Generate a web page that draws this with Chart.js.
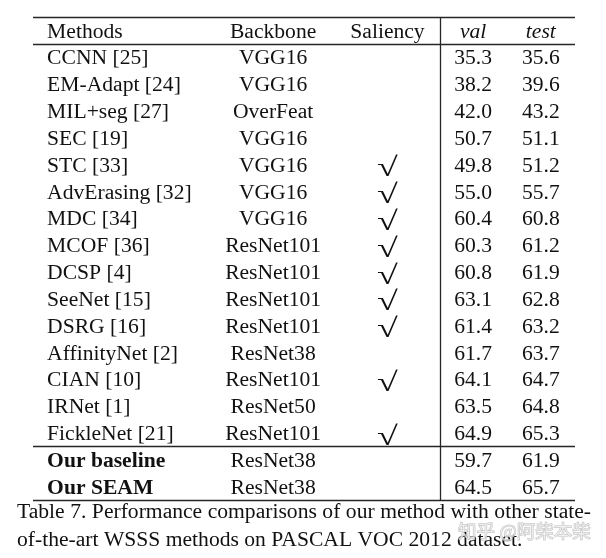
<!DOCTYPE html>
<html>
<head>
<meta charset="utf-8">
<script src="https://cdn.jsdelivr.net/npm/chart.js@4.4.0/dist/chart.umd.min.js"></script>
<style>
  html, body { margin: 0; padding: 0; background: #fff; }
</style>
</head>
<body>
<canvas id="tabla" width="606" height="558"></canvas>
<script>
// Datos de la tabla
const headers = ['Methods', 'Backbone', 'Saliency', 'val', 'test'];
const methods = ['CCNN [25]', 'EM-Adapt [24]', 'MIL+seg [27]', 'SEC [19]', 'STC [33]', 'AdvErasing [32]', 'MDC [34]',
    'MCOF [36]', 'DCSP [4]', 'SeeNet [15]', 'DSRG [16]', 'AffinityNet [2]', 'CIAN [10]', 'IRNet [1]', 'FickleNet [21]',
    'Our baseline', 'Our SEAM'];
const backbones = ['VGG16', 'VGG16', 'OverFeat', 'VGG16', 'VGG16', 'VGG16', 'VGG16', 'ResNet101', 'ResNet101',
    'ResNet101', 'ResNet101', 'ResNet38', 'ResNet101', 'ResNet50', 'ResNet101', 'ResNet38', 'ResNet38'];
const saliency = [false, false, false, false, true, true, true, true, true, true, true, false, true, false, true, false, false];
const valScores = [35.3, 38.2, 42.0, 50.7, 49.8, 55.0, 60.4, 60.3, 60.8, 63.1, 61.4, 61.7, 64.1, 63.5, 64.9, 59.7, 64.5];
const testScores = [35.6, 39.6, 43.2, 51.1, 51.2, 55.7, 60.8, 61.2, 61.9, 62.8, 63.2, 63.7, 64.7, 64.8, 65.3, 61.9, 65.7];
const oursFrom = 15; // filas propias (negrita)
const caption = [
    'Table 7. Performance comparisons of our method with other state-',
    'of-the-art WSSS methods on PASCAL VOC 2012 dataset.'
];
const watermark = '知乎 @阿柴本柴';

// Posiciones de columnas (en unidades del eje x, 0..100)
const colMethods = 2.6;
const colBackbone = 44.3;
const colSaliency = 65.4;
const colDivider = 75.0;
const colVal = 81.2;
const colTest = 93.7;

const serif = '"Liberation Serif", "DejaVu Serif", serif';
const FS = 21.6;
const DY = 1.5; // ajuste vertical del texto

const tablePlugin = {
    id: 'tablePlugin',
    afterDraw(chart) {
        const ctx = chart.ctx;
        const xs = chart.scales.x;
        const ys = chart.scales.y;
        const area = chart.chartArea;
        ctx.save();

        // Reglas horizontales y vertical
        ctx.strokeStyle = '#262626';
        ctx.lineWidth = 1.3;
        [-0.5, 0.5, oursFrom + 0.5, methods.length + 0.5].forEach(v => {
            const y = Math.round(ys.getPixelForValue(v)) + 0.5;
            ctx.beginPath();
            ctx.moveTo(area.left, y);
            ctx.lineTo(area.right, y);
            ctx.stroke();
        });
        const xd = Math.round(xs.getPixelForValue(colDivider)) + 0.5;
        ctx.beginPath();
        ctx.moveTo(xd, ys.getPixelForValue(-0.5));
        ctx.lineTo(xd, ys.getPixelForValue(methods.length + 0.5));
        ctx.stroke();

        ctx.fillStyle = '#111';
        ctx.textBaseline = 'middle';

        // Encabezado
        const y0 = ys.getPixelForValue(0) + DY;
        ctx.font = FS + 'px ' + serif;
        ctx.textAlign = 'left';
        ctx.fillText(headers[0], xs.getPixelForValue(colMethods), y0);
        ctx.textAlign = 'center';
        ctx.fillText(headers[1], xs.getPixelForValue(colBackbone), y0);
        ctx.fillText(headers[2], xs.getPixelForValue(colSaliency), y0);
        ctx.font = 'italic ' + FS + 'px ' + serif;
        ctx.fillText(headers[3], xs.getPixelForValue(colVal), y0);
        ctx.fillText(headers[4], xs.getPixelForValue(colTest), y0);

        // Filas
        methods.forEach((m, i) => {
            const y = ys.getPixelForValue(i + 1) + DY;
            ctx.font = (i >= oursFrom ? 'bold ' : '') + FS + 'px ' + serif;
            ctx.textAlign = 'left';
            ctx.fillText(m, xs.getPixelForValue(colMethods), y);
            ctx.font = FS + 'px ' + serif;
            ctx.textAlign = 'center';
            ctx.fillText(backbones[i], xs.getPixelForValue(colBackbone), y);
            ctx.fillText(valScores[i].toFixed(1), xs.getPixelForValue(colVal), y);
            ctx.fillText(testScores[i].toFixed(1), xs.getPixelForValue(colTest), y);
            if (saliency[i]) {
                // marca ensanchada para parecerse al check del original
                ctx.save();
                ctx.translate(xs.getPixelForValue(colSaliency), y + 3);
                ctx.scale(1.4, 1);
                ctx.font = '27px ' + serif;
                ctx.fillText('√', 0, 0);
                ctx.restore();
            }
        });

        // Pie de tabla (primera linea justificada)
        ctx.font = FS + 'px ' + serif;
        ctx.textAlign = 'left';
        const capLeft = 17, capRight = 591;
        const words = caption[0].split(' ');
        const wsum = words.reduce((s, w) => s + ctx.measureText(w).width, 0);
        const gap = (capRight - capLeft - wsum) / (words.length - 1);
        let x = capLeft;
        const yc1 = area.bottom + 12;
        words.forEach(w => {
            ctx.fillText(w, x, yc1);
            x += ctx.measureText(w).width + gap;
        });
        ctx.fillText(caption[1], capLeft, yc1 + 28);

        // Marca de agua
        ctx.font = '18.5px "Noto Sans CJK SC", sans-serif';
        ctx.fillStyle = 'rgba(255, 255, 255, 0.55)';
        ctx.strokeStyle = 'rgba(175, 175, 175, 0.8)';
        ctx.lineWidth = 1;
        ctx.strokeText(watermark, 458, yc1 + 19);
        ctx.fillText(watermark, 458, yc1 + 19);

        ctx.restore();
    }
};

new Chart(document.getElementById('tabla'), {
    type: 'scatter',
    data: { datasets: [] },
    options: {
        responsive: false,
        animation: false,
        layout: { padding: { top: 17, bottom: 58, left: 33, right: 31 } },
        plugins: { legend: { display: false }, tooltip: { enabled: false } },
        scales: {
            x: { type: 'linear', min: 0, max: 100, display: false },
            y: { type: 'linear', min: -0.5, max: methods.length + 0.5, reverse: true, display: false }
        }
    },
    plugins: [tablePlugin]
});
</script>
</body>
</html>
